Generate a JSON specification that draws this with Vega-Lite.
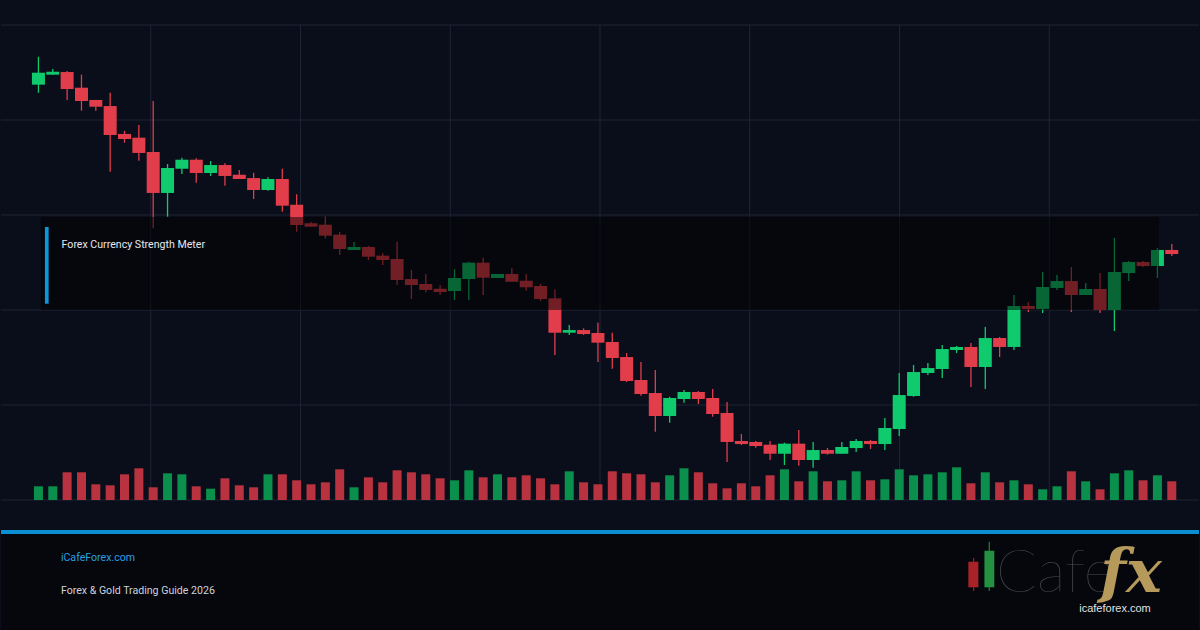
{
  "$schema": "https://vega.github.io/schema/vega-lite/v6.json",
  "width": 1200,
  "height": 630,
  "autosize": {"type": "fit", "contains": "padding"},
  "padding": 0,
  "background": "#0a0e1a",
  "config": {"view": {"stroke": null}, "scale": {"continuousPadding": 0}},
  "resolve": {"scale": {"y": "independent"}},
  "datasets": {
    "candles": [
      {"t":0,"open":143.72,"high":146.66,"low":142.87,"close":144.98,"volume":1370},
      {"t":1,"open":144.77,"high":145.37,"low":144.77,"close":145.08,"volume":1370},
      {"t":2,"open":145.05,"high":145.16,"low":142.11,"close":143.26,"volume":2770},
      {"t":3,"open":143.40,"high":144.77,"low":140.98,"close":142.00,"volume":2770},
      {"t":4,"open":142.11,"high":142.11,"low":140.98,"close":141.40,"volume":1570},
      {"t":5,"open":141.47,"high":142.87,"low":134.56,"close":138.42,"volume":1470},
      {"t":6,"open":138.53,"high":138.87,"low":137.61,"close":138.00,"volume":2570},
      {"t":7,"open":138.14,"high":139.47,"low":135.72,"close":136.53,"volume":3170},
      {"t":8,"open":136.63,"high":142.00,"low":128.60,"close":132.32,"volume":1270},
      {"t":9,"open":132.32,"high":135.37,"low":129.82,"close":134.95,"volume":2670},
      {"t":10,"open":134.87,"high":136.03,"low":134.32,"close":135.82,"volume":2570},
      {"t":11,"open":135.82,"high":135.97,"low":133.40,"close":134.42,"volume":1370},
      {"t":12,"open":134.42,"high":135.68,"low":134.11,"close":135.26,"volume":1130},
      {"t":13,"open":135.26,"high":135.44,"low":133.08,"close":134.11,"volume":2170},
      {"t":14,"open":134.24,"high":134.74,"low":133.79,"close":133.79,"volume":1470},
      {"t":15,"open":133.89,"high":134.45,"low":131.68,"close":132.63,"volume":1270},
      {"t":16,"open":132.63,"high":133.97,"low":132.56,"close":133.79,"volume":2570},
      {"t":17,"open":133.79,"high":134.87,"low":130.35,"close":130.98,"volume":2570},
      {"t":18,"open":131.08,"high":132.18,"low":128.24,"close":128.95,"volume":1970},
      {"t":19,"open":129.13,"high":129.26,"low":128.77,"close":128.77,"volume":1570},
      {"t":20,"open":128.98,"high":129.82,"low":127.55,"close":127.82,"volume":1770},
      {"t":21,"open":127.93,"high":128.21,"low":125.79,"close":126.42,"volume":3070},
      {"t":22,"open":126.32,"high":127.16,"low":126.32,"close":126.63,"volume":1270},
      {"t":23,"open":126.63,"high":126.74,"low":125.26,"close":125.61,"volume":2270},
      {"t":24,"open":125.72,"high":125.97,"low":124.74,"close":125.26,"volume":1770},
      {"t":25,"open":125.37,"high":127.19,"low":122.63,"close":123.16,"volume":2970},
      {"t":26,"open":123.26,"high":124.21,"low":121.16,"close":122.63,"volume":2770},
      {"t":27,"open":122.74,"high":123.79,"low":121.86,"close":122.11,"volume":2570},
      {"t":28,"open":122.24,"high":122.63,"low":121.58,"close":121.89,"volume":2170},
      {"t":29,"open":122.00,"high":124.28,"low":121.05,"close":123.37,"volume":1970},
      {"t":30,"open":123.26,"high":125.08,"low":121.05,"close":124.98,"volume":2970},
      {"t":31,"open":124.98,"high":125.51,"low":121.58,"close":123.40,"volume":2270},
      {"t":32,"open":123.37,"high":123.79,"low":123.37,"close":123.79,"volume":2570},
      {"t":33,"open":123.79,"high":124.39,"low":122.98,"close":122.98,"volume":2270},
      {"t":34,"open":123.08,"high":123.79,"low":122.03,"close":122.39,"volume":2470},
      {"t":35,"open":122.53,"high":122.74,"low":120.95,"close":121.16,"volume":2170},
      {"t":36,"open":121.23,"high":122.18,"low":115.26,"close":117.61,"volume":1570},
      {"t":37,"open":117.61,"high":118.42,"low":117.37,"close":117.89,"volume":2870},
      {"t":38,"open":117.89,"high":118.07,"low":117.37,"close":117.47,"volume":1770},
      {"t":39,"open":117.58,"high":118.66,"low":114.53,"close":116.56,"volume":1570},
      {"t":40,"open":116.63,"high":117.61,"low":113.82,"close":114.95,"volume":2870},
      {"t":41,"open":115.05,"high":115.47,"low":112.42,"close":112.53,"volume":2670},
      {"t":42,"open":112.63,"high":114.53,"low":110.98,"close":111.16,"volume":2570},
      {"t":43,"open":111.26,"high":113.68,"low":107.19,"close":108.84,"volume":1770},
      {"t":44,"open":108.84,"high":110.87,"low":108.14,"close":110.74,"volume":2470},
      {"t":45,"open":110.63,"high":111.58,"low":110.24,"close":111.37,"volume":3170},
      {"t":46,"open":111.37,"high":111.47,"low":110.11,"close":110.63,"volume":2770},
      {"t":47,"open":110.74,"high":111.68,"low":108.77,"close":109.05,"volume":1670},
      {"t":48,"open":109.16,"high":110.32,"low":104.00,"close":106.11,"volume":1170},
      {"t":49,"open":106.21,"high":106.95,"low":105.79,"close":105.89,"volume":1670},
      {"t":50,"open":106.11,"high":106.21,"low":105.51,"close":105.68,"volume":1370},
      {"t":51,"open":105.82,"high":106.21,"low":104.21,"close":104.87,"volume":2470},
      {"t":52,"open":104.87,"high":106.03,"low":103.68,"close":105.93,"volume":3070},
      {"t":53,"open":105.93,"high":107.37,"low":103.61,"close":104.21,"volume":1870},
      {"t":54,"open":104.21,"high":106.11,"low":103.40,"close":105.26,"volume":2870},
      {"t":55,"open":105.26,"high":105.47,"low":104.77,"close":104.87,"volume":1870},
      {"t":56,"open":104.87,"high":106.11,"low":104.87,"close":105.58,"volume":1970},
      {"t":57,"open":105.47,"high":106.42,"low":105.05,"close":106.21,"volume":2870},
      {"t":58,"open":106.21,"high":106.32,"low":105.37,"close":105.89,"volume":1970},
      {"t":59,"open":105.89,"high":108.63,"low":105.26,"close":107.58,"volume":2070},
      {"t":60,"open":107.47,"high":113.37,"low":106.74,"close":111.05,"volume":3070},
      {"t":61,"open":110.95,"high":114.21,"low":110.87,"close":113.47,"volume":2470},
      {"t":62,"open":113.37,"high":114.42,"low":113.16,"close":113.89,"volume":2570},
      {"t":63,"open":113.79,"high":116.32,"low":112.84,"close":115.89,"volume":2770},
      {"t":64,"open":115.79,"high":116.21,"low":115.47,"close":116.11,"volume":3270},
      {"t":65,"open":116.11,"high":116.53,"low":111.89,"close":114.00,"volume":1670},
      {"t":66,"open":114.00,"high":118.21,"low":111.68,"close":117.05,"volume":2770},
      {"t":67,"open":117.05,"high":117.16,"low":115.05,"close":116.11,"volume":1770},
      {"t":68,"open":116.11,"high":121.58,"low":115.79,"close":120.42,"volume":1970},
      {"t":69,"open":120.42,"high":120.84,"low":119.79,"close":120.11,"volume":1570},
      {"t":70,"open":120.11,"high":124.00,"low":119.68,"close":122.42,"volume":1070},
      {"t":71,"open":122.32,"high":123.68,"low":122.11,"close":123.05,"volume":1370},
      {"t":72,"open":123.05,"high":124.53,"low":119.79,"close":121.58,"volume":2870},
      {"t":73,"open":121.58,"high":122.84,"low":121.58,"close":122.21,"volume":1870},
      {"t":74,"open":122.21,"high":123.89,"low":119.68,"close":120.00,"volume":1070},
      {"t":75,"open":120.00,"high":127.58,"low":117.79,"close":124.00,"volume":2670},
      {"t":76,"open":123.89,"high":125.16,"low":123.05,"close":125.05,"volume":2970},
      {"t":77,"open":125.05,"high":125.16,"low":124.53,"close":124.63,"volume":1970},
      {"t":78,"open":124.63,"high":126.53,"low":123.37,"close":126.32,"volume":2470},
      {"t":79,"open":126.32,"high":126.95,"low":125.68,"close":125.89,"volume":1870}
    ],
    "vgrid": [{"t":7.829},{"t":18.267},{"t":28.706},{"t":39.144},{"t":49.582},{"t":60.021},{"t":70.459}],
    "hgrid": [{"p":100},{"p":110},{"p":120},{"p":130},{"p":140},{"p":150}],
    "one": [{}]
  },
  "layer": [
    {
      "data": {"name": "one"},
      "mark": {"type": "rect", "fill": "#05070d"},
      "encoding": {
        "x": {"datum": -2.6096, "type": "quantitative", "scale": {"domain": [-2.6096, 80.898], "nice": false, "zero": false, "padding": 0}, "axis": null},
        "x2": {"datum": 80.898},
        "y": {"datum": 86.316, "type": "quantitative", "scale": {"domain": [86.316, 152.632], "nice": false, "zero": false}, "axis": null},
        "y2": {"datum": 96.5}
      }
    },
    {
      "data": {"name": "hgrid"},
      "mark": {"type": "rule", "stroke": "#1f2536", "strokeWidth": 1},
      "encoding": {
        "y": {"field": "p", "type": "quantitative", "scale": {"domain": [86.316, 152.632], "nice": false, "zero": false}, "axis": null}
      }
    },
    {
      "data": {"name": "vgrid"},
      "mark": {"type": "rule", "stroke": "#1f2536", "strokeWidth": 1},
      "encoding": {
        "x": {"field": "t", "type": "quantitative", "scale": {"domain": [-2.6096, 80.898], "nice": false, "zero": false, "padding": 0}, "axis": null},
        "y": {"datum": 100, "type": "quantitative", "scale": {"domain": [86.316, 152.632], "nice": false, "zero": false}, "axis": null},
        "y2": {"datum": 150}
      }
    },
    {
      "data": {"name": "candles"},
      "mark": {"type": "bar", "width": 9},
      "encoding": {
        "x": {"field": "t", "type": "quantitative", "scale": {"domain": [-2.6096, 80.898], "nice": false, "zero": false, "padding": 0}, "axis": null},
        "y": {"field": "volume", "type": "quantitative", "scale": {"domain": [-13000, 50000], "nice": false, "zero": false}, "axis": null},
        "y2": {"datum": 0},
        "color": {"condition": {"test": "datum.close >= datum.open", "value": "#0a8f4d"}, "value": "#b8333f"}
      }
    },
    {
      "data": {"name": "candles"},
      "mark": {"type": "rule", "strokeWidth": 1.3},
      "encoding": {
        "x": {"field": "t", "type": "quantitative", "scale": {"domain": [-2.6096, 80.898], "nice": false, "zero": false, "padding": 0}, "axis": null},
        "y": {"field": "low", "type": "quantitative", "scale": {"domain": [86.316, 152.632], "nice": false, "zero": false}, "axis": null},
        "y2": {"field": "high"},
        "color": {"condition": {"test": "datum.close >= datum.open", "value": "#10cb6d"}, "value": "#e23d4b"}
      }
    },
    {
      "data": {"name": "candles"},
      "mark": {"type": "bar", "width": 13},
      "encoding": {
        "x": {"field": "t", "type": "quantitative", "scale": {"domain": [-2.6096, 80.898], "nice": false, "zero": false, "padding": 0}, "axis": null},
        "y": {"field": "open", "type": "quantitative", "scale": {"domain": [86.316, 152.632], "nice": false, "zero": false}, "axis": null},
        "y2": {"field": "close"},
        "color": {"condition": {"test": "datum.close >= datum.open", "value": "#10cb6d"}, "value": "#e23d4b"}
      }
    },
    {
      "data": {"name": "one"},
      "mark": {"type": "rect", "fill": "#000000", "opacity": 0.5},
      "encoding": {
        "x": {"datum": 0.174, "type": "quantitative", "scale": {"domain": [-2.6096, 80.898], "nice": false, "zero": false, "padding": 0}, "axis": null},
        "x2": {"datum": 78.114},
        "y": {"datum": 120.0, "type": "quantitative", "scale": {"domain": [86.316, 152.632], "nice": false, "zero": false}, "axis": null},
        "y2": {"datum": 129.79}
      }
    },
    {
      "data": {"name": "one"},
      "mark": {"type": "rect", "fill": "#0e96d8"},
      "encoding": {
        "x": {"datum": 0.452, "type": "quantitative", "scale": {"domain": [-2.6096, 80.898], "nice": false, "zero": false, "padding": 0}, "axis": null},
        "x2": {"datum": 0.71},
        "y": {"datum": 120.66, "type": "quantitative", "scale": {"domain": [86.316, 152.632], "nice": false, "zero": false}, "axis": null},
        "y2": {"datum": 128.74}
      }
    },
    {
      "data": {"name": "one"},
      "mark": {"type": "text", "align": "left", "baseline": "alphabetic", "font": "Roboto", "fontSize": 10.6, "fill": "#e6e8ee"},
      "encoding": {
        "x": {"datum": 1.614, "type": "quantitative", "scale": {"domain": [-2.6096, 80.898], "nice": false, "zero": false, "padding": 0}, "axis": null},
        "y": {"datum": 126.53, "type": "quantitative", "scale": {"domain": [86.316, 152.632], "nice": false, "zero": false}, "axis": null},
        "text": {"value": "Forex Currency Strength Meter"}
      }
    },
    {
      "data": {"name": "one"},
      "mark": {"type": "rect", "fill": "#0b8fd3"},
      "encoding": {
        "x": {"datum": -2.6096, "type": "quantitative", "scale": {"domain": [-2.6096, 80.898], "nice": false, "zero": false, "padding": 0}, "axis": null},
        "x2": {"datum": 80.898},
        "y": {"datum": 96.42, "type": "quantitative", "scale": {"domain": [86.316, 152.632], "nice": false, "zero": false}, "axis": null},
        "y2": {"datum": 96.84}
      }
    },
    {
      "data": {"name": "one"},
      "mark": {"type": "text", "align": "left", "baseline": "alphabetic", "font": "Roboto", "fontSize": 10.6, "fill": "#2a9fe0"},
      "encoding": {
        "x": {"datum": 1.566, "type": "quantitative", "scale": {"domain": [-2.6096, 80.898], "nice": false, "zero": false, "padding": 0}, "axis": null},
        "y": {"datum": 93.63, "type": "quantitative", "scale": {"domain": [86.316, 152.632], "nice": false, "zero": false}, "axis": null},
        "text": {"value": "iCafeForex.com"}
      }
    },
    {
      "data": {"name": "one"},
      "mark": {"type": "text", "align": "left", "baseline": "alphabetic", "font": "Roboto", "fontSize": 10.6, "fill": "#d0d2d8"},
      "encoding": {
        "x": {"datum": 1.566, "type": "quantitative", "scale": {"domain": [-2.6096, 80.898], "nice": false, "zero": false, "padding": 0}, "axis": null},
        "y": {"datum": 90.105, "type": "quantitative", "scale": {"domain": [86.316, 152.632], "nice": false, "zero": false}, "axis": null},
        "text": {"value": "Forex & Gold Trading Guide 2026"}
      }
    },
    {
      "data": {"name": "one"},
      "mark": {"type": "rule", "stroke": "#8a1f24", "strokeWidth": 1.3},
      "encoding": {
        "x": {"datum": 65.19, "type": "quantitative", "scale": {"domain": [-2.6096, 80.898], "nice": false, "zero": false, "padding": 0}, "axis": null},
        "y": {"datum": 90.42, "type": "quantitative", "scale": {"domain": [86.316, 152.632], "nice": false, "zero": false}, "axis": null},
        "y2": {"datum": 93.9}
      }
    },
    {
      "data": {"name": "one"},
      "mark": {"type": "rect", "fill": "#a82228"},
      "encoding": {
        "x": {"datum": 64.82, "type": "quantitative", "scale": {"domain": [-2.6096, 80.898], "nice": false, "zero": false, "padding": 0}, "axis": null},
        "x2": {"datum": 65.52},
        "y": {"datum": 90.81, "type": "quantitative", "scale": {"domain": [86.316, 152.632], "nice": false, "zero": false}, "axis": null},
        "y2": {"datum": 93.5}
      }
    },
    {
      "data": {"name": "one"},
      "mark": {"type": "rule", "stroke": "#1d7a36", "strokeWidth": 1.3},
      "encoding": {
        "x": {"datum": 66.28, "type": "quantitative", "scale": {"domain": [-2.6096, 80.898], "nice": false, "zero": false, "padding": 0}, "axis": null},
        "y": {"datum": 90.42, "type": "quantitative", "scale": {"domain": [86.316, 152.632], "nice": false, "zero": false}, "axis": null},
        "y2": {"datum": 95.6}
      }
    },
    {
      "data": {"name": "one"},
      "mark": {"type": "rect", "fill": "#23913f"},
      "encoding": {
        "x": {"datum": 65.94, "type": "quantitative", "scale": {"domain": [-2.6096, 80.898], "nice": false, "zero": false, "padding": 0}, "axis": null},
        "x2": {"datum": 66.63},
        "y": {"datum": 90.81, "type": "quantitative", "scale": {"domain": [86.316, 152.632], "nice": false, "zero": false}, "axis": null},
        "y2": {"datum": 94.66}
      }
    },
    {
      "data": {"name": "one"},
      "mark": {"type": "text", "align": "left", "baseline": "alphabetic", "font": "Lato", "fontWeight": 100, "fontSize": 60, "fill": "#4e4e4e"},
      "encoding": {
        "x": {"datum": 66.75, "type": "quantitative", "scale": {"domain": [-2.6096, 80.898], "nice": false, "zero": false, "padding": 0}, "axis": null},
        "y": {"datum": 90.347, "type": "quantitative", "scale": {"domain": [86.316, 152.632], "nice": false, "zero": false}, "axis": null},
        "text": {"value": "Cafe"}
      }
    },
    {
      "data": {"name": "one"},
      "mark": {"type": "text", "align": "left", "baseline": "alphabetic", "font": "DejaVu Serif", "fontStyle": "italic", "fontWeight": "bold", "fontSize": 60, "fill": "#b59a5c"},
      "encoding": {
        "x": {"datum": 74.01, "type": "quantitative", "scale": {"domain": [-2.6096, 80.898], "nice": false, "zero": false, "padding": 0}, "axis": null},
        "y": {"datum": 90.316, "type": "quantitative", "scale": {"domain": [86.316, 152.632], "nice": false, "zero": false}, "axis": null},
        "text": {"value": "fx"}
      }
    },
    {
      "data": {"name": "one"},
      "mark": {"type": "text", "align": "left", "baseline": "alphabetic", "font": "Liberation Sans", "fontSize": 11, "fill": "#e2e2e2"},
      "encoding": {
        "x": {"datum": 72.55, "type": "quantitative", "scale": {"domain": [-2.6096, 80.898], "nice": false, "zero": false, "padding": 0}, "axis": null},
        "y": {"datum": 88.21, "type": "quantitative", "scale": {"domain": [86.316, 152.632], "nice": false, "zero": false}, "axis": null},
        "text": {"value": "icafeforex.com"}
      }
    }
  ]
}
